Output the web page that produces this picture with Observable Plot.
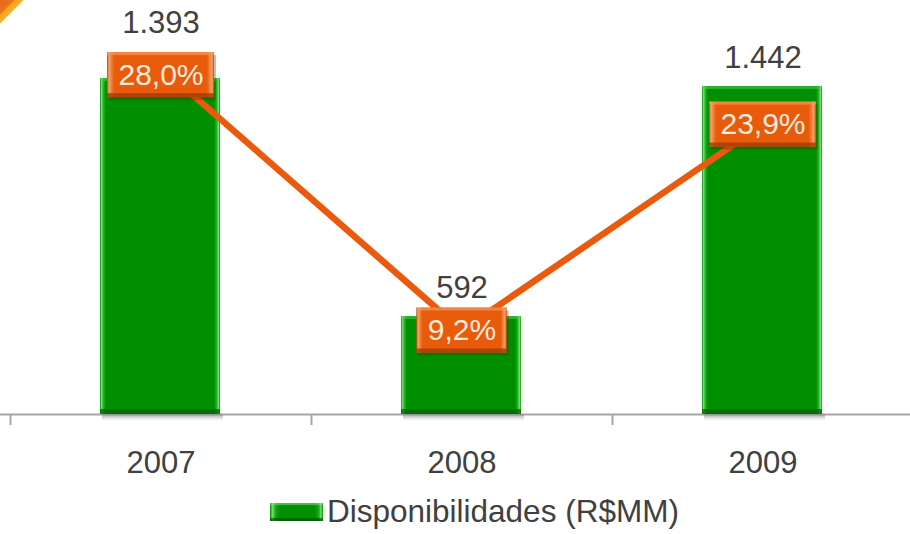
<!DOCTYPE html>
<html>
<head>
<meta charset="utf-8">
<script src="https://cdn.jsdelivr.net/npm/d3@7"></script>
<script src="https://cdn.jsdelivr.net/npm/@observablehq/plot@0.6"></script>
<style>
  html, body { margin: 0; padding: 0; background: #fff; }
  #wrap { position: relative; width: 910px; height: 534px; overflow: hidden; font-family: "Liberation Sans", Arial, sans-serif; }
  #chart { position: relative; width: 910px; height: 490px; }
  #chart svg.layer, #chart figure { position: absolute; left: 0; top: 0; margin: 0; }
  #corner { position: absolute; left: 0; top: 0; width: 26px; height: 26px; z-index: 5;
    background: linear-gradient(135deg, #e8661a 0, #ec7418 26%, #f6a423 30%, #f9b02a 44%, rgba(255,255,255,0) 47%); }
  #legend { position: absolute; left: 270px; top: 490px; height: 44px; display: flex; align-items: center; }
  #legend .sw { width: 53px; height: 18px;
    background: linear-gradient(to right, #0a880a 0, #6ae46a 5%, #1aa81a 10%, #009000 18%, #009000 84%, #1aa81a 92%, #6ae46a 96%, #0a880a 100%);
    box-shadow: inset 0 -3px 1px rgba(0,80,0,0.7), inset 0 2px 1px rgba(140,240,140,0.5); }
  #legend .lb { margin-left: 4px; font-size: 31.5px; color: #404040; line-height: 1; }
</style>
</head>
<body>
<svg width="0" height="0" style="position:absolute">
  <defs>
    <linearGradient id="gBarH" x1="0" y1="0" x2="1" y2="0">
      <stop offset="0" stop-color="#0b8a0b"/>
      <stop offset="0.012" stop-color="#6ae46a"/>
      <stop offset="0.03" stop-color="#22ad22"/>
      <stop offset="0.05" stop-color="#008f00"/>
      <stop offset="0.95" stop-color="#008f00"/>
      <stop offset="0.97" stop-color="#22ad22"/>
      <stop offset="0.988" stop-color="#6ae46a"/>
      <stop offset="1" stop-color="#0b8a0b"/>
    </linearGradient>
    <linearGradient id="gShadow" x1="0" y1="0" x2="0" y2="1">
      <stop offset="0" stop-color="#8c8c8c" stop-opacity="0.9"/>
      <stop offset="1" stop-color="#c8c8c8" stop-opacity="0"/>
    </linearGradient>
    <linearGradient id="gOrH" x1="0" y1="0" x2="1" y2="0">
      <stop offset="0" stop-color="#c44806"/>
      <stop offset="0.02" stop-color="#f7a36c"/>
      <stop offset="0.045" stop-color="#ef7a34"/>
      <stop offset="0.07" stop-color="#e75b0a"/>
      <stop offset="0.93" stop-color="#e75b0a"/>
      <stop offset="0.955" stop-color="#ef7a34"/>
      <stop offset="0.98" stop-color="#f7a36c"/>
      <stop offset="1" stop-color="#c44806"/>
    </linearGradient>
  </defs>
</svg>
<div id="wrap">
  <div id="chart"></div>
  <div id="corner"></div>
  <div id="legend"><div class="sw"></div><div class="lb">Disponibilidades (R$MM)</div></div>
</div>
<script>
// ---- Dados ----
const anos = ["2007", "2008", "2009"];
const disponibilidades = [1393, 592, 1442];      // rótulos de valor (R$MM)
const alturasBarras = [1393, 406, 1360];         // altura das barras tal como desenhadas na imagem
const percentuais = [28.0, 9.2, 23.9];           // série da linha (%)

const loc = d3.formatLocale({decimal: ",", thousands: ".", grouping: [3], currency: ["R$", ""]});
const fmtValor = loc.format(",d");
const fmtPct = v => loc.format(".1f")(v) + "%";

const dados = anos.map((ano, i) => ({i, ano, valor: disponibilidades[i], barra: alturasBarras[i], pct: percentuais[i]}));

const W = 910, H = 490;
const font = '"Liberation Sans", Arial, sans-serif';
const xScale = {type: "linear", domain: [0, anos.length], range: [10, 913], axis: null};
const txt = "#404040";
const bx = {x1: d => d.i, x2: d => d.i + 1, insetLeft: 90, insetRight: 91};

const plotBars = Plot.plot({
  width: W, height: H, marginTop: 0, marginBottom: 76, marginLeft: 0, marginRight: 0,
  x: xScale,
  y: {domain: [0, 1400], range: [414, 76.3], axis: null},
  style: {fontFamily: font, background: "transparent", overflow: "visible"},
  marks: [
    Plot.ruleY([0], {stroke: "#a6a6a6", strokeWidth: 2}),
    Plot.ruleX(d3.range(anos.length + 1), {x: d => d, y1: 0, y2: 0, insetBottom: -11, stroke: "#a6a6a6", strokeWidth: 2}),
    Plot.text(anos, {x: (d, i) => i + 0.5, y: 0, dy: 49, text: d => d, fontSize: 31, fill: txt}),
    Plot.rect(dados, {x1: d => d.i, x2: d => d.i + 1, insetLeft: 92, insetRight: 88, y1: 0, y2: 0, insetBottom: -7, fill: "url(#gShadow)"}),
    Plot.rect(dados, {...bx, y1: 0, y2: "barra", fill: "url(#gBarH)"}),
    Plot.rect(dados, {...bx, y1: "barra", y2: "barra", insetBottom: -3, fill: "#4ccc4c", fillOpacity: 0.55}),
    Plot.rect(dados, {...bx, y1: 0, y2: 0, insetTop: -5, fill: "#006400", fillOpacity: 0.75}),
    Plot.text(dados.filter(d => d.i !== 0), {x: d => d.i + 0.5, y: "barra", dy: -28, text: d => fmtValor(d.valor), fontSize: 31, fill: txt}),
    Plot.text(dados.filter(d => d.i === 0), {x: d => d.i + 0.5, y: "barra", dy: -55, text: d => fmtValor(d.valor), fontSize: 31, fill: txt})
  ]
});

const ctx = document.createElement("canvas").getContext("2d");
ctx.font = "30px " + font;
const medir = s => ctx.measureText(s).width;

// caixas de rótulo (a de 2007 foi deslocada um pouco para baixo no original)
const labelMarks = dados.flatMap(d => {
  const w = medir(fmtPct(d.pct)) + 22;
  const off = d.i === 0 ? 8 : 0;
  const base = {x1: e => e.i + 0.5, x2: e => e.i + 0.5, y1: "pct", y2: "pct", insetLeft: -w / 2, insetRight: -w / 2};
  return [
    Plot.rect([d], {...base, insetTop: -22.5, insetBottom: -22.5, dx: 2, dy: 3 + off, fill: "#5a2000", fillOpacity: 0.3}),
    Plot.rect([d], {...base, insetTop: -22.5, insetBottom: -22.5, dy: off, fill: "url(#gOrH)"}),
    Plot.rect([d], {...base, insetTop: -22.5, insetBottom: 19.5, dy: off, fill: "#f6955a", fillOpacity: 0.7}),
    Plot.rect([d], {...base, insetTop: 18.5, insetBottom: -22.5, dy: off, fill: "#a23c04", fillOpacity: 0.8}),
    Plot.text([d], {x: e => e.i + 0.5, y: "pct", dy: off, text: e => fmtPct(e.pct), fontSize: 30, fill: "#fbeadd"})
  ];
});

const plotLine = Plot.plot({
  width: W, height: H, marginTop: 0, marginBottom: 76, marginLeft: 0, marginRight: 0,
  x: xScale,
  y: {domain: [0, 30], range: [458.9, 38.6], axis: null},
  style: {fontFamily: font, background: "transparent", overflow: "visible"},
  marks: [
    Plot.line(dados, {x: d => d.i + 0.5, y: "pct", stroke: "#eb5a0c", strokeWidth: 6.5}),
    ...labelMarks
  ]
});

plotBars.classList.add("layer");
plotLine.classList.add("layer");
const chart = document.getElementById("chart");
chart.appendChild(plotBars);
chart.appendChild(plotLine);
</script>
</body>
</html>
